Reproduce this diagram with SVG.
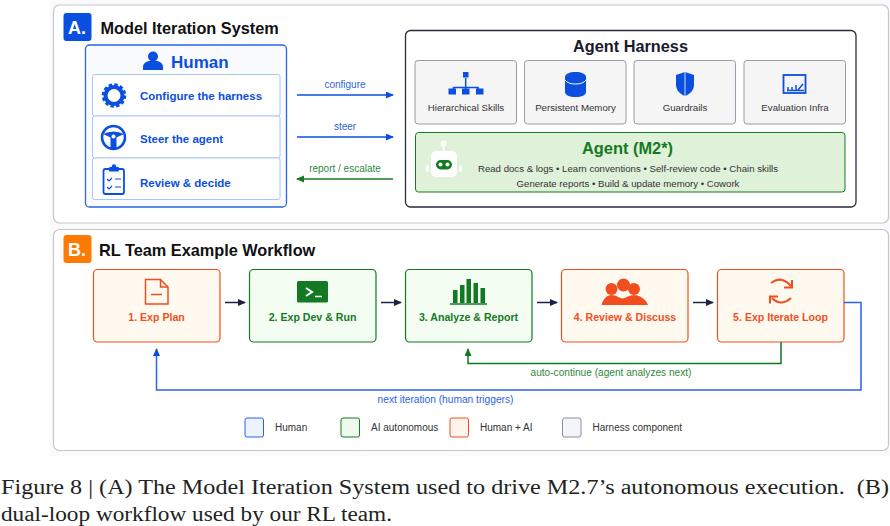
<svg xmlns="http://www.w3.org/2000/svg" width="890" height="526" viewBox="0 0 890 526">
<style>
text{font-family:"Liberation Sans",Arial,sans-serif}
.panel{fill:#fff;stroke:#c6c6d0;stroke-width:1.2}
.title{font-size:16.3px;font-weight:700;fill:#111}
.badge{font-size:18px;font-weight:700;fill:#fff;text-anchor:middle}
.row{fill:#fff;stroke:#a9c6f5;stroke-width:1}
.rowt{font-size:11.5px;font-weight:700;fill:#0b4fe0}
.card{fill:#f5f5f5;stroke:#9a9aa8;stroke-width:1}
.cardt{font-size:9.7px;fill:#333;text-anchor:middle}
.ag{font-size:9.65px;fill:#333;text-anchor:middle}
.lbl{font-size:10px;text-anchor:middle}
.o{fill:#fff9f0;stroke:#f0501e;stroke-width:1.2}
.g{fill:#f3fdf2;stroke:#137a23;stroke-width:1.2}
.ot{font-size:10.6px;font-weight:700;fill:#f0501e;text-anchor:middle}
.gt{font-size:10.6px;font-weight:700;fill:#137a23;text-anchor:middle}
.blue{fill:#0b4fe0}.green{fill:#137a23}.org{fill:#f04e1e}
.cap{font-family:"Liberation Serif","Times New Roman",serif;font-size:20.500px;fill:#222}
.leg{font-size:10px;fill:#333}
.c{fill:none;stroke-width:1.5}
</style>
<defs>
<marker id="mb" markerWidth="8" markerHeight="8" refX="7" refY="3.5" orient="auto" markerUnits="userSpaceOnUse"><path d="M0 0L8 3.5L0 7Z" fill="#0b4fe0"/></marker>
<marker id="mg" markerWidth="8" markerHeight="8" refX="7" refY="3.5" orient="auto" markerUnits="userSpaceOnUse"><path d="M0 0L8 3.5L0 7Z" fill="#137a23"/></marker>
<marker id="mn" markerWidth="8" markerHeight="8" refX="7" refY="3.5" orient="auto" markerUnits="userSpaceOnUse"><path d="M0 0L8 3.5L0 7Z" fill="#1c2244"/></marker>
</defs>
<rect width="890" height="526" fill="#fff"/>
<rect x="50" y="0" width="840" height="456" fill="#fafafa"/>
<g id="panel-a">
<rect class="panel" x="53.5" y="5" width="835" height="218" rx="6"/>
<rect x="63.5" y="13" width="28" height="28" rx="3" class="blue"/>
<text class="badge" x="77" y="34">A.</text>
<text class="title" x="100.500" y="34">Model Iteration System</text>
</g>
<g id="human">
<rect x="85.500" y="45" width="201" height="162" rx="4" fill="#f9fbff" stroke="#2a66e8" stroke-width="1.3"/>
<circle cx="153" cy="56.500" r="5" class="blue"/>
<path d="M143 70v-3c0-4 4-6.500 10-6.500s10 2.500 10 6.500v3z" class="blue"/>
<text x="171" y="68" font-size="17" font-weight="700" fill="#0b4fe0">Human</text>
</g>
<g id="row-configure">
<rect class="row" x="92.500" y="74.500" width="187.500" height="41.500" rx="2"/>
<circle cx="114" cy="95.500" r="8.500" fill="none" stroke="#0b4fe0" stroke-width="4"/>
<circle cx="114" cy="95.500" r="11" fill="none" stroke="#0b4fe0" stroke-width="2.500" stroke-dasharray="3.500 2.260"/>
<text class="rowt" x="140" y="100">Configure the harness</text>
</g>
<g id="row-steer">
<rect class="row" x="92.500" y="116" width="187.500" height="42" rx="2"/>
<circle cx="113.500" cy="137.500" r="11.500" fill="none" stroke="#0b4fe0" stroke-width="2.500"/>
<path d="M103 134q10.500-5 21 0l-7.500 3.500v11h-6v-11z" class="blue"/>
<circle cx="113.500" cy="136.500" r="2" fill="#fff"/>
<text class="rowt" x="140" y="143">Steer the agent</text>
</g>
<g id="row-review">
<rect class="row" x="92.500" y="158" width="187.500" height="41.500" rx="2"/>
<rect x="103.500" y="169" width="20.500" height="25" rx="2" fill="none" stroke="#0b4fe0" stroke-width="1.800"/>
<rect x="109" y="167" width="10" height="4.500" rx="1" class="blue"/>
<circle cx="114" cy="166.500" r="2.200" class="blue"/>
<path d="M107 179l2 2 3-3M107 187l2 2 3-3M115 179h6M115 187h6" fill="none" stroke="#0b4fe0" stroke-width="1.200"/>
<text class="rowt" x="140" y="187">Review &amp; decide</text>
</g>
<g id="connectors-a">
<path class="c" d="M297 95H393" stroke="#0b4fe0" marker-end="url(#mb)"/>
<path class="c" d="M297 137H393" stroke="#0b4fe0" marker-end="url(#mb)"/>
<path class="c" d="M393 179H297" stroke="#137a23" marker-end="url(#mg)"/>
<text class="lbl" x="345" y="88" fill="#2a66d8">configure</text>
<text class="lbl" x="345" y="130" fill="#2a66d8">steer</text>
<text class="lbl" x="345" y="172" fill="#2f8a3c">report / escalate</text>
</g>
<g id="harness">
<rect x="405.500" y="30.500" width="450.500" height="176.500" rx="5" fill="#fff" stroke="#2a2a3a" stroke-width="1.300"/>
<text x="630.500" y="52" font-size="16.300" font-weight="700" fill="#1a1a2e" text-anchor="middle">Agent Harness</text>
</g>
<g id="card-skills">
<rect class="card" x="415" y="60.500" width="101.500" height="63.500" rx="3"/>
<path d="M465.700 78v9M453.500 92v-4.500h24.500V92M465.700 87v5" fill="none" stroke="#0b4fe0" stroke-width="1.500"/>
<rect x="463" y="72" width="5.500" height="5.500" class="blue"/>
<rect x="448.500" y="88.500" width="7.500" height="6" class="blue"/><rect x="462" y="88.500" width="7.500" height="6" class="blue"/><rect x="476" y="88.500" width="7.500" height="6" class="blue"/>
<text class="cardt" x="466" y="111">Hierarchical Skills</text>
</g>
<g id="card-memory">
<rect class="card" x="524.500" y="60.500" width="101.500" height="63.500" rx="3"/>
<path d="M565 77c0-3 4.500-5 10.500-5s10.500 2 10.500 5v15c0 3-4.500 5-10.500 5s-10.500-2-10.500-5z" class="blue"/>
<path d="M565 80c2 3 6 4 10.500 4s8.500-1 10.500-4" fill="none" stroke="#fff" stroke-width="1"/>
<text class="cardt" x="575.500" y="111">Persistent Memory</text>
</g>
<g id="card-guardrails">
<rect class="card" x="634" y="60.500" width="101.500" height="63.500" rx="3"/>
<path d="M685 72l9 3v10c0 5-4 9-9 11-5-2-9-6-9-11V75z" class="blue"/>
<path d="M685 72v24" stroke="#fff" stroke-width="0.800"/>
<text class="cardt" x="685" y="111">Guardrails</text>
</g>
<g id="card-eval">
<rect class="card" x="744" y="60.500" width="101.500" height="63.500" rx="3"/>
<rect x="783.500" y="75" width="22" height="18" fill="none" stroke="#0b4fe0" stroke-width="1.800"/>
<path d="M788 90v-3M792 90v-3M796 90v-5M787 90.500h17M798 90l5-6" fill="none" stroke="#0b4fe0" stroke-width="1.500"/>
<text class="cardt" x="795" y="111">Evaluation Infra</text>
</g>
<g id="agent">
<rect x="415.500" y="132.500" width="429.500" height="59.500" rx="3" fill="#dff1d8" stroke="#137a23" stroke-width="1"/>
<circle cx="443.500" cy="143.500" r="3" fill="#fff"/>
<rect x="442.700" y="145" width="1.800" height="6" fill="#fff"/>
<rect x="431" y="151" width="26" height="26" rx="5" fill="#fff"/>
<rect x="426" y="165" width="3" height="7" rx="1.500" fill="#fff"/><rect x="459" y="165" width="3" height="7" rx="1.500" fill="#fff"/>
<rect x="436" y="160" width="16" height="9.500" rx="4.700" class="green"/>
<circle cx="440.500" cy="164.500" r="2" fill="#fff"/><circle cx="447.500" cy="164.500" r="2" fill="#fff"/>
<text x="627.500" y="154" font-size="16.400" font-weight="700" fill="#137a23" text-anchor="middle">Agent (M2*)</text>
<text class="ag" x="628" y="172">Read docs &amp; logs • Learn conventions • Self-review code • Chain skills</text>
<text class="ag" x="628" y="187">Generate reports • Build &amp; update memory • Cowork</text>
</g>
<g id="panel-b">
<rect class="panel" x="53.500" y="229.500" width="835" height="221" rx="6"/>
<rect x="63.500" y="235" width="28" height="28" rx="3" fill="#ff7a00"/>
<text class="badge" x="77" y="256">B.</text>
<text class="title" x="99" y="256">RL Team Example Workflow</text>
</g>
<g id="step-1">
<rect class="o" x="93.500" y="269.500" width="126.500" height="72.500" rx="4"/>
<path d="M145.500 279.500h15l7.500 7.500v17h-22.500zM160.500 279.500v7.500h7.500M151 294.500h11" fill="none" stroke="#f04e1e" stroke-width="1.500"/>
<text class="ot" x="156.500" y="321">1. Exp Plan</text>
</g>
<g id="step-2">
<rect class="g" x="249.500" y="269.500" width="126.500" height="72.500" rx="4"/>
<rect x="297" y="281" width="31" height="21.500" rx="1.500" class="green"/>
<path d="M306 288l6 4-6 4" fill="none" stroke="#fff" stroke-width="2"/><path d="M315 296.500h7" stroke="#fff" stroke-width="1.500"/>
<text class="gt" x="312.500" y="321">2. Exp Dev &amp; Run</text>
</g>
<g id="step-3">
<rect class="g" x="405.500" y="269.500" width="126.500" height="72.500" rx="4"/>
<path d="M453 290h4.500v13H453zM460 285h4.500v18H460zM466.500 279h4.500v24h-4.500zM473.500 283h4.500v20h-4.500zM480.500 288h4.500v15h-4.500z" class="green"/>
<path d="M450 304h37" stroke="#137a23" stroke-width="1.500"/>
<text class="gt" x="468.500" y="321">3. Analyze &amp; Report</text>
</g>
<g id="step-4">
<rect class="o" x="561.500" y="269.500" width="126.500" height="72.500" rx="4"/>
<circle cx="611.500" cy="289" r="6" class="org"/><circle cx="623.500" cy="285" r="6.500" class="org"/><circle cx="634" cy="289" r="6" class="org"/>
<path d="M601.500 305c2-7 6-10 10-10 5 0 7 3 11 3.500 4-.5 7-3.500 11-3.500 5 0 12 3 14.500 10z" class="org"/>
<text class="ot" x="625" y="321">4. Review &amp; Discuss</text>
</g>
<g id="step-5">
<rect class="o" x="717.500" y="269.500" width="126.500" height="72.500" rx="4"/>
<path d="M771 283Q781 275 791 286M791 298Q781 307 772 298" fill="none" stroke="#f04e1e" stroke-width="2"/>
<path d="M784 287.500H792V280M778 296.500H770V303.500" fill="none" stroke="#f04e1e" stroke-width="2"/>
<text class="ot" x="780.500" y="321">5. Exp Iterate Loop</text>
</g>
<g id="connectors-b">
<path class="c" d="M225 302.500H245" stroke="#1c2244" marker-end="url(#mn)"/>
<path class="c" d="M381 302.500H401" stroke="#1c2244" marker-end="url(#mn)"/>
<path class="c" d="M537 302.500H557" stroke="#1c2244" marker-end="url(#mn)"/>
<path class="c" d="M693 302.500H713" stroke="#1c2244" marker-end="url(#mn)"/>
<path class="c" d="M781 342V363.500H468V349" stroke="#137a23" marker-end="url(#mg)"/>
<path class="c" d="M844 302.500H861V390H156.500V349" stroke="#2a62e8" marker-end="url(#mb)"/>
<text class="lbl" x="611" y="376" fill="#2f8a3c" style="font-size:10.150px">auto-continue (agent analyzes next)</text>
<text class="lbl" x="445.500" y="403" fill="#2a62e8" style="font-size:10.200px">next iteration (human triggers)</text>
</g>
<g id="legend">
<rect x="245" y="418" width="18.500" height="19" rx="2" fill="#edf3fe" stroke="#2a62e8" stroke-width="1"/>
<text class="leg" x="275" y="431">Human</text>
<rect x="341" y="418" width="18.500" height="19" rx="2" fill="#effaee" stroke="#137a23" stroke-width="1"/>
<text class="leg" x="371" y="431">AI autonomous</text>
<rect x="450" y="418" width="18.500" height="19" rx="2" fill="#fff5ec" stroke="#f04e1e" stroke-width="1"/>
<text class="leg" x="480" y="431">Human + AI</text>
<rect x="562.500" y="418" width="18.500" height="19" rx="2" fill="#f4f5fa" stroke="#8a8ea0" stroke-width="1"/>
<text class="leg" x="592.500" y="431">Harness component</text>
</g>
<g id="caption">
<text class="cap" x="1" y="494" textLength="888" lengthAdjust="spacingAndGlyphs">Figure 8 | (A) The Model Iteration System used to drive M2.7’s autonomous execution.&#160; (B)</text>
<text class="cap" x="1" y="521" textLength="391" lengthAdjust="spacingAndGlyphs">dual-loop workflow used by our RL team.</text>
</g>
</svg>
